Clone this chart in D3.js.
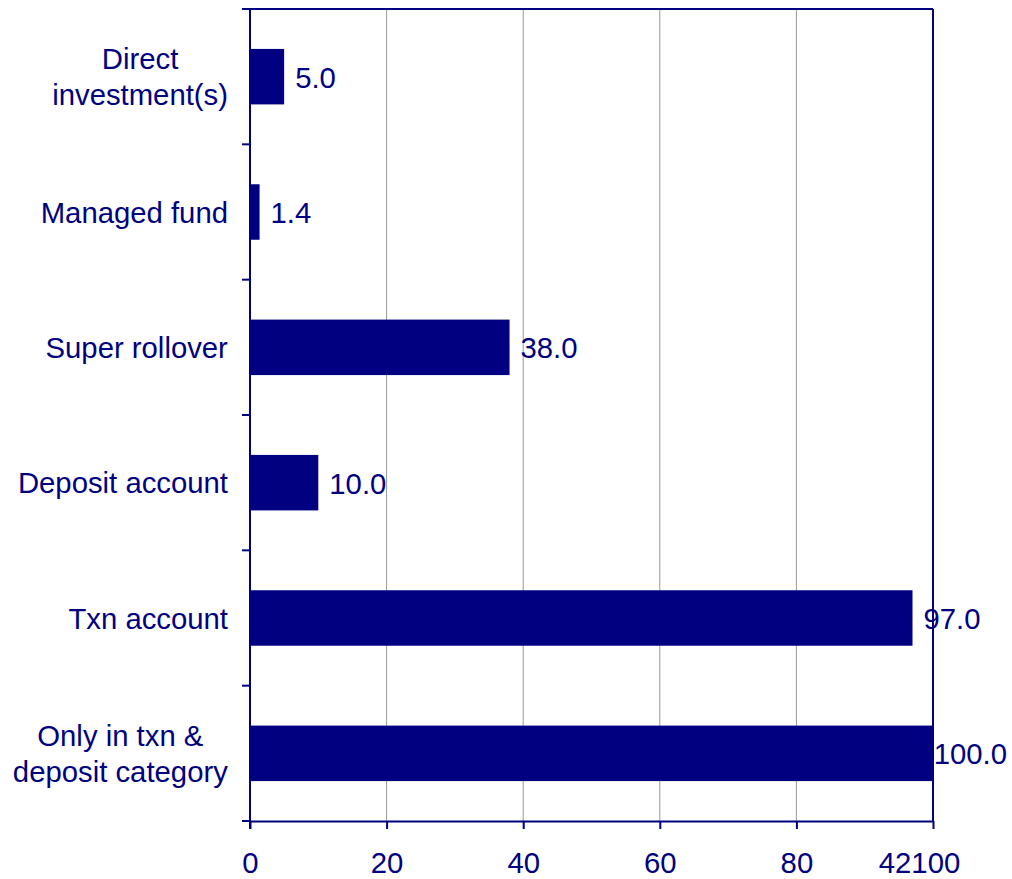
<!DOCTYPE html>
<html><head><meta charset="utf-8">
<script src="https://cdn.jsdelivr.net/npm/d3@7"></script>
<style>body{margin:0;background:#fff}svg{display:block}text{font-family:"Liberation Sans",Arial,sans-serif}</style>
</head><body><svg id="c" width="1012" height="879"></svg>
<script>
const categories = [["Direct","investment(s)"],["Managed fund"],["Super rollover"],["Deposit account"],["Txn account"],["Only in txn &","deposit category"]];
const values = [5.0, 1.4, 38.0, 10.0, 97.0, 100.0];
const valueLabels = ["5.0","1.4","38.0","10.0","97.0","100.0"];
const tickValues = [0, 20, 40, 60, 80, 100];
const tickLabels = ["0","20","40","60","80","42100"];

const navy = "#000080";
const fs = 29.3;
const svg = d3.select("#c");
const L = 250, R = 933, T = 9, B = 821;
const x = d3.scaleLinear().domain([0, 100]).range([L, R]);
const y = d3.scaleBand().domain(d3.range(categories.length)).range([T, B]).paddingInner(0.59).paddingOuter(0.295);
const band = d3.scaleBand().domain(d3.range(categories.length)).range([T, B]);

// gridlines
svg.append("g").selectAll("line").data(tickValues.filter(v => v > 0 && v < 100)).join("line")
  .attr("x1", d => x(d)).attr("x2", d => x(d)).attr("y1", T).attr("y2", B)
  .attr("stroke", "#999").attr("stroke-width", 1);

// bars
svg.append("g").selectAll("rect").data(values).join("rect")
  .attr("x", x(0)).attr("y", (d, i) => y(i)).attr("width", d => x(d) - x(0)).attr("height", y.bandwidth())
  .attr("fill", navy);

// frame top & right
svg.append("line").attr("x1", L).attr("x2", R).attr("y1", T).attr("y2", T).attr("stroke", navy).attr("stroke-width", 2);
svg.append("line").attr("x1", R).attr("x2", R).attr("y1", T).attr("y2", B).attr("stroke", navy).attr("stroke-width", 2);

// x axis
const xAxis = d3.axisBottom(x).tickValues(tickValues).tickSize(8).tickSizeOuter(0).tickFormat((d, i) => tickLabels[i]);
const gx = svg.append("g").attr("transform", `translate(0,${B})`).call(xAxis);
gx.select(".domain").attr("stroke", navy).attr("stroke-width", 2);
gx.selectAll(".tick line").attr("stroke", navy).attr("stroke-width", 2);
gx.selectAll(".tick text").attr("fill", navy).attr("font-size", fs).attr("font-family", '"Liberation Sans",Arial,sans-serif')
  .attr("y", 0).attr("dy", 52).attr("dx", (d, i) => i === tickValues.length - 1 ? -14 : 0);

// y axis line & ticks at band boundaries
svg.append("line").attr("x1", L).attr("x2", L).attr("y1", T).attr("y2", B + 8).attr("stroke", navy).attr("stroke-width", 2);
const bounds = d3.range(categories.length + 1).map(i => i < categories.length ? band(i) : B);
svg.append("g").selectAll("line").data(bounds).join("line")
  .attr("x1", L - 8).attr("x2", L).attr("y1", d => d).attr("y2", d => d)
  .attr("stroke", navy).attr("stroke-width", 2);

// category labels (centre-aligned block, right edge at 228)
const lh = 36;
categories.forEach((lines, i) => {
  const cy = band(i) + band.bandwidth() / 2;
  const t = svg.append("text").attr("fill", navy).attr("font-size", fs).attr("text-anchor", "middle");
  lines.forEach((s, j) => {
    t.append("tspan").attr("x", 0).attr("y", cy + (j - (lines.length - 1) / 2) * lh).attr("dy", "0.36em").text(s);
  });
  const w = t.node().getBBox().width;
  t.attr("transform", `translate(${228 - w / 2},0)`);
});

// value labels
svg.append("g").selectAll("text").data(values).join("text")
  .attr("y", (d, i) => y(i) + y.bandwidth() / 2).attr("dy", "0.37em")
  .attr("fill", navy).attr("font-size", fs).text((d, i) => valueLabels[i])
  .attr("x", function(d) { const w = this.getComputedTextLength(); return Math.min(x(d) + 11, 1007 - w); });
</script></body></html>
